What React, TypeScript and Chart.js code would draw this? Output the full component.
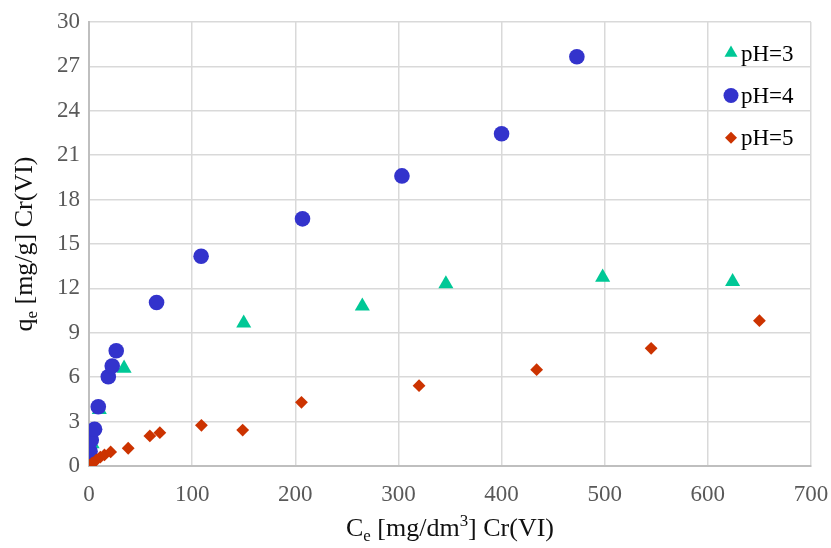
import React, { useEffect, useRef } from "react";
import { Chart, registerables } from "chart.js";

Chart.register(...registerables);

// ---- data ----
const seriesLabels = ["pH=3", "pH=4", "pH=5"];

const ph3X = [0.2, 1, 3, 10, 34, 150, 265, 346, 498, 624];
const ph3Y = [0.1, 0.7, 1.5, 3.8, 6.6, 9.65, 10.8, 12.3, 12.75, 12.45];

const ph4X = [0.2, 0.5, 1, 2.2, 5.4, 9, 18.7, 22.5, 26.4, 65.5, 108.7, 207, 303.4, 400, 473];
const ph4Y = [0.05, 0.45, 1.0, 1.76, 2.48, 4.0, 6.03, 6.76, 7.79, 11.05, 14.17, 16.7, 19.6, 22.45, 27.65];

const ph5X = [0.5, 3, 7, 11, 15, 21, 38, 59, 68.7, 109, 149, 206, 320, 434, 545, 650];
const ph5Y = [0.05, 0.2, 0.4, 0.6, 0.75, 0.95, 1.2, 2.03, 2.25, 2.75, 2.43, 4.3, 5.43, 6.51, 7.95, 9.82];

const xTicks = [0, 100, 200, 300, 400, 500, 600, 700];
const yTicks = [0, 3, 6, 9, 12, 15, 18, 21, 24, 27, 30];

const xTitle = [
  { t: "C" },
  { t: "e", sub: true },
  { t: " [mg/dm" },
  { t: "3", sup: true },
  { t: "] Cr(VI)" },
];
const yTitle = [{ t: "q" }, { t: "e", sub: true }, { t: " [mg/g] Cr(VI)" }];

const colors = ["#00C896", "#3333CC", "#CC3300"];
const styles = ["triangle", "circle", "rectRot"];
const radii = [8.7, 7.8, 6.4];

const FONT = "'Liberation Serif', 'Times New Roman', serif";

type Seg = { t: string; sub?: boolean; sup?: boolean };

function drawRich(ctx: CanvasRenderingContext2D, segs: Seg[], cx: number, cy: number, size: number, rotate: boolean) {
  ctx.save();
  ctx.translate(cx, cy);
  if (rotate) ctx.rotate(-Math.PI / 2);
  ctx.textBaseline = "alphabetic";
  ctx.textAlign = "left";
  const small = size * 0.65;
  let total = 0;
  const widths = segs.map((s) => {
    ctx.font = `${s.sub || s.sup ? small : size}px ${FONT}`;
    const w = ctx.measureText(s.t).width;
    total += w;
    return w;
  });
  let x = -total / 2;
  const base = size * 0.33;
  segs.forEach((s, i) => {
    ctx.font = `${s.sub || s.sup ? small : size}px ${FONT}`;
    let y = base;
    if (s.sub) y = base + size * 0.2;
    if (s.sup) y = base - size * 0.38;
    ctx.fillText(s.t, x, y);
    x += widths[i];
  });
  ctx.restore();
}

function drawMarker(ctx: CanvasRenderingContext2D, style: string, x: number, y: number, r: number) {
  ctx.beginPath();
  if (style === "circle") {
    ctx.arc(x, y, r, 0, Math.PI * 2);
  } else if (style === "triangle") {
    ctx.moveTo(x, y - r);
    ctx.lineTo(x + r * Math.sin(Math.PI / 3), y + r * 0.5);
    ctx.lineTo(x - r * Math.sin(Math.PI / 3), y + r * 0.5);
    ctx.closePath();
  } else {
    ctx.moveTo(x, y - r);
    ctx.lineTo(x + r, y);
    ctx.lineTo(x, y + r);
    ctx.lineTo(x - r, y);
    ctx.closePath();
  }
  ctx.fill();
}

const overlayPlugin = {
  id: "overlay",
  afterDraw(chart: any) {
    const ctx: CanvasRenderingContext2D = chart.ctx;
    const a = chart.chartArea;
    ctx.save();
    ctx.fillStyle = "#111111";
    drawRich(ctx, xTitle, (a.left + a.right) / 2, 527, 26, false);
    drawRich(ctx, yTitle, 23, (a.top + a.bottom) / 2, 26, true);
    // legend
    const rows = [a.top + 31, a.top + 73.5, a.top + 115.7];
    chart.data.datasets.forEach((ds: any, i: number) => {
      ctx.fillStyle = ds.backgroundColor;
      drawMarker(ctx, ds.pointStyle, a.right - 80, rows[i], i === 0 ? 7.5 : i === 1 ? 7.5 : 6);
      ctx.fillStyle = "#000000";
      ctx.font = `23px ${FONT}`;
      ctx.textAlign = "left";
      ctx.textBaseline = "middle";
      ctx.fillText(ds.label, a.right - 70, rows[i] + 1.5);
    });
    ctx.restore();
  },
};

export default function App() {
  const ref = useRef<HTMLCanvasElement | null>(null);
  useEffect(() => {
    if (!ref.current) return;
    const xs = [ph3X, ph4X, ph5X];
    const ys = [ph3Y, ph4Y, ph5Y];
    const datasets = seriesLabels.map((label, i) => ({
      label,
      data: xs[i].map((x, j) => ({ x, y: ys[i][j] })),
      backgroundColor: colors[i],
      borderColor: colors[i],
      pointStyle: styles[i],
      pointRadius: radii[i],
      pointBorderWidth: 0,
      showLine: false,
      order: 3 - i,
    }));
    const chart = new Chart(ref.current, {
      type: "scatter",
      data: { datasets },
      options: {
        animation: false,
        responsive: false,
        devicePixelRatio: 1,
        layout: { padding: { left: 0, top: 22, right: 20, bottom: 0 } },
        plugins: { legend: { display: false }, tooltip: { enabled: false } },
        scales: {
          x: {
            type: "linear",
            min: 0,
            max: 700,
            afterFit: (s: any) => {
              s.height = 82;
              s.paddingLeft = 0;
              s.paddingRight = 0;
            },
            afterBuildTicks: (s: any) => {
              s.ticks = xTicks.map((v) => ({ value: v }));
            },
            ticks: { color: "#595959", font: { family: FONT, size: 23 }, padding: 15 },
            grid: { color: "#d9d9d9", lineWidth: 1.5, drawTicks: false },
            border: { color: "#bfbfbf", width: 2 },
          },
          y: {
            type: "linear",
            min: 0,
            max: 30,
            afterFit: (s: any) => {
              s.width = 89;
              s.paddingTop = 0;
              s.paddingBottom = 0;
            },
            afterBuildTicks: (s: any) => {
              s.ticks = yTicks.map((v) => ({ value: v }));
            },
            ticks: { color: "#595959", font: { family: FONT, size: 23 }, padding: 9 },
            grid: { color: "#d9d9d9", lineWidth: 1.5, drawTicks: false },
            border: { color: "#bfbfbf", width: 2 },
          },
        },
      },
      plugins: [overlayPlugin],
    });
    return () => chart.destroy();
  }, []);
  return (
    <div style={{ position: "absolute", left: 0, top: 0, width: 831, height: 548, background: "#fff" }}>
      <canvas ref={ref} width={831} height={548} />
    </div>
  );
}
